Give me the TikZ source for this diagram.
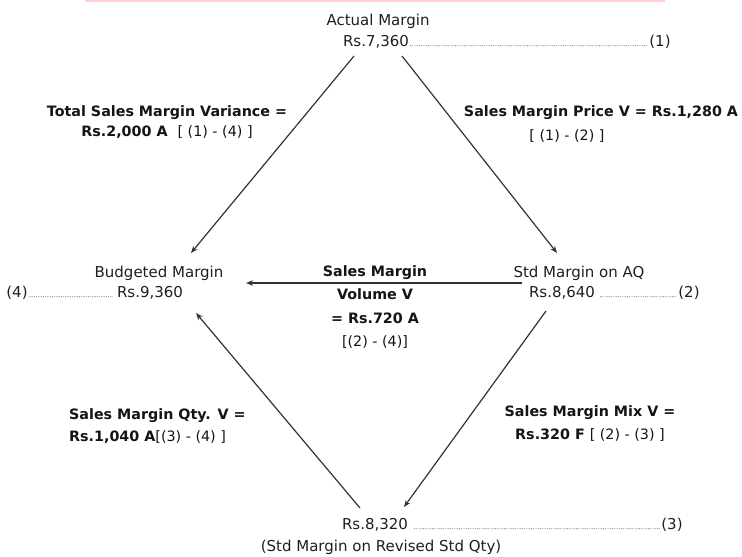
\documentclass[tikz,border=0pt]{standalone}
\usepackage{fontspec}
\setmainfont{DejaVu Sans}
\usetikzlibrary{arrows.meta,calc}
\tikzset{
  lbl/.style={inner sep=1pt, font=\fontsize{15}{18}\selectfont, text=black!88},
  var/.style={inner sep=1pt, text=black!92, align=center},
  arr/.style={draw=black!80, line width=1.2pt, -{Stealth[length=7pt,width=5.5pt]}},
  lead/.style={draw=black!65, line width=0.7pt, dash pattern=on 0.7pt off 1.1pt},
}
\newcommand{\vfont}[1]{\fontsize{14.3}{#1}\selectfont\bfseries}
\begin{document}
\begin{tikzpicture}[x=1pt,y=-1pt]
\useasboundingbox (0,0) rectangle (742,557);
% faint red band along the top edge
\fill[red!18] (85,0) rectangle (665,1.6);

% amounts
\node[lbl] (am) at (378,21) {Actual Margin};
\node[lbl] (r1) at (376,42) {Rs.7,360};
\node[lbl] (n1) at (660,42) {(1)};

\node[lbl] (bm) at (159,273) {Budgeted Margin};
\node[lbl] (n4) at (17,293) {(4)};
\node[lbl] (r4) at (150,293) {Rs.9,360};

\node[lbl] (sm) at (579,273) {Std Margin on AQ};
\node[lbl] (r2) at (562,293) {Rs.8,640};
\node[lbl] (n2) at (689,293) {(2)};

\node[lbl] (r3) at (375,525) {Rs.8,320};
\node[lbl] (n3) at (672,525) {(3)};
\node[lbl] (rq) at (381,547) {(Std Margin on Revised Std Qty)};

% dotted leaders
\draw[lead] ([yshift=1pt]r1.base east) -- ([yshift=1pt]n1.base west);
\draw[lead] ([yshift=1pt]n4.base east) -- ([yshift=1pt,xshift=-3pt]r4.base west);
\draw[lead] ([yshift=1pt,xshift=4pt]r2.base east) -- ([yshift=1pt]n2.base west);
\draw[lead] ([yshift=1pt,xshift=5pt]r3.base east) -- ([yshift=1pt]n3.base west);

% variances
\node[var, font=\vfont{20}] (tv) at (167,122)
  {Total Sales Margin Variance =\\Rs.2,000 A\ \ {\mdseries [ (1) - (4) ]}};
\node[var, font=\vfont{20}] (pv) at (601,113) {Sales Margin Price V = Rs.1,280 A};
\node[var, font=\fontsize{14.3}{20}\selectfont] (pvb) at (567,136) {[ (1) - (2) ]};
\node[var, font=\vfont{23.3}] (vv) at (375,307)
  {Sales Margin\\Volume V\\= Rs.720 A\\{\mdseries [(2) - (4)]}};
\node[var, font=\vfont{22}, align=left, anchor=west] (qv) at (68,426)
  {Sales Margin Qty. V =\\Rs.1,040 A{\mdseries[(3) - (4) ]}};
\node[var, font=\vfont{23}] (mv) at (590,423.5)
  {Sales Margin Mix V =\\Rs.320 F {\mdseries [ (2) - (3) ]}};

% connectors
\draw[arr] ($(r1)+(-22,14)$) -- ($(bm)+(32,-20)$);
\draw[arr] ($(r1)+(26,14)$) -- ($(sm)+(-22,-20)$);
\draw[arr] ($(sm)+(-57,10)$) -- ($(bm)+(87,10)$);
\draw[arr] ($(r2)+(-16,18)$) -- ($(r3)+(29,-18)$);
\draw[arr] ($(r3)+(-15,-17)$) -- ($(r4)+(46,20)$);
\end{tikzpicture}
\end{document}
